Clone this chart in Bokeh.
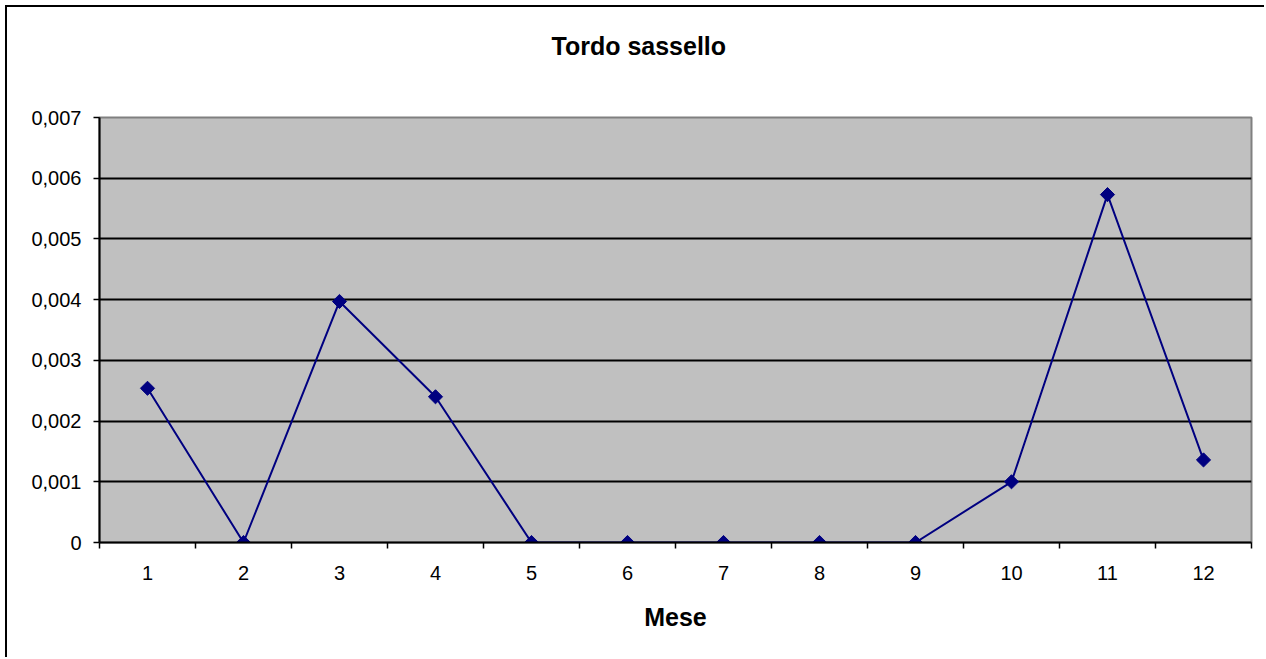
import math
from bokeh.plotting import figure
from bokeh.models import FixedTicker, CustomJSTickFormatter, Range1d, Title
from bokeh.embed import file_html
from bokeh.resources import INLINE

# ---- data ----
months = [1, 2, 3, 4, 5, 6, 7, 8, 9, 10, 11, 12]
values = [0.00254, 0.0, 0.00397, 0.00240, 0.0, 0.0, 0.0, 0.0, 0.0, 0.00100, 0.00573, 0.00136]
y_ticks = [0.0, 0.001, 0.002, 0.003, 0.004, 0.005, 0.006, 0.007]
y_labels = ["0", "0,001", "0,002", "0,003", "0,004", "0,005", "0,006", "0,007"]
x_labels = [str(m) for m in months]
title_text = "Tordo sassello"
x_title = "Mese"

FONT = "Liberation Sans"

p = figure(width=1259, height=652, output_backend="svg", toolbar_location=None,
           x_range=Range1d(0.5, 12.5), y_range=Range1d(0, 0.007),
           min_border_left=92, min_border_right=15, min_border_top=110, min_border_bottom=117)
p.styles = {"margin-left": "5px", "margin-top": "5px",
            "border-left": "2px solid black", "border-top": "2px solid black"}

p.background_fill_color = "#C0C0C0"
p.border_fill_color = "white"
p.outline_line_color = "#808080"
p.outline_line_width = 2

# blank spacer between frame and title
p.add_layout(Title(text=" ", text_font=FONT, text_font_size="25px", standoff=28), "above")

# title
p.title.text = title_text
p.title.text_font = FONT
p.title.text_font_style = "bold"
p.title.text_font_size = "25px"
p.title.text_color = "black"
p.title.align = "left"
p.title.offset = 452
p.title.standoff = 0

# x axis
xa = p.xaxis[0]
xa.ticker = FixedTicker(ticks=months, minor_ticks=[m - 0.5 for m in months] + [months[-1] + 0.5])
xa.major_label_overrides = {m: lab for m, lab in zip(months, x_labels)}
xa.major_tick_out = 0
xa.major_tick_in = 0
xa.minor_tick_out = 6
xa.minor_tick_in = 0
xa.minor_tick_line_color = "black"
xa.minor_tick_line_width = 1.5
xa.axis_line_color = "black"
xa.axis_line_width = 2
xa.major_label_text_font = FONT
xa.major_label_text_font_size = "20px"
xa.major_label_text_color = "black"
xa.major_label_standoff = 17
xa.axis_label = x_title
xa.axis_label_text_font = FONT
xa.axis_label_text_font_style = "bold"
xa.axis_label_text_font_size = "25px"
xa.axis_label_text_color = "black"
xa.axis_label_standoff = 20

# y axis
ya = p.yaxis[0]
ya.ticker = FixedTicker(ticks=y_ticks)
ya.formatter = CustomJSTickFormatter(args=dict(yt=y_ticks, yl=y_labels), code="""
const i = yt.findIndex(t => Math.abs(t - tick) < 1e-9);
return i >= 0 ? yl[i] : "";
""")
ya.major_tick_out = 6
ya.major_tick_in = 0
ya.major_tick_line_color = "black"
ya.major_tick_line_width = 1.5
ya.minor_tick_line_color = None
ya.axis_line_color = "black"
ya.axis_line_width = 2
ya.major_label_text_font = FONT
ya.major_label_text_font_size = "20px"
ya.major_label_text_color = "black"
ya.major_label_standoff = 12

p.xgrid.visible = False
p.ygrid.ticker = FixedTicker(ticks=y_ticks[1:-1])
p.ygrid.grid_line_color = "black"
p.ygrid.grid_line_width = 2

p.line(months, values, line_color="#000080", line_width=2)
p.scatter(months, values, marker="square", angle=math.pi / 4, size=10,
          fill_color="#000080", line_color="#000080")

open("out.html", "w").write(file_html(p, INLINE))
